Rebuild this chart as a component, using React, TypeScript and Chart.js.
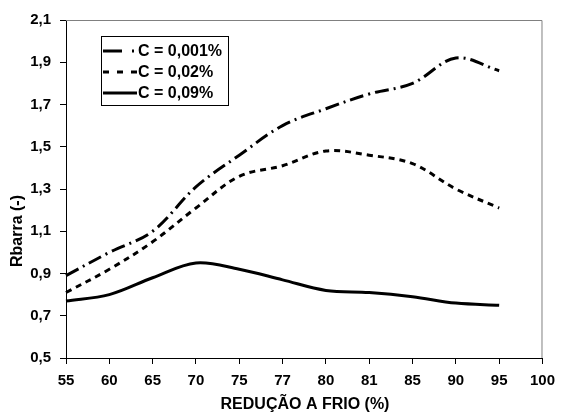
import React, { useEffect, useRef } from "react";
import { Chart, registerables } from "chart.js";

Chart.register(...registerables);

const categories = ["55", "60", "65", "70", "75", "77", "80", "81", "85", "90", "95", "100"];
const seriesNames = ["C = 0,001%", "C = 0,02%", "C = 0,09%"];
const c001 = [0.89, 1.0, 1.1, 1.31, 1.46, 1.6, 1.68, 1.75, 1.8, 1.92, 1.86, null];
const c002 = [0.81, 0.92, 1.05, 1.21, 1.36, 1.41, 1.48, 1.46, 1.42, 1.3, 1.21, null];
const c009 = [0.77, 0.8, 0.88, 0.95, 0.92, 0.87, 0.82, 0.81, 0.79, 0.76, 0.75, null];
const xTitle = "REDUÇÃO A FRIO (%)";
const yTitle = "Rbarra (-)";
const dashes = [[14, 5, 2, 5], [6, 5], []];
const legendDashes = [[19, 10, 2, 10], [6, 8], []];

const FONT = "Arial, 'Liberation Sans', sans-serif";

const legendPlugin = {
  id: "boxLegend",
  afterDraw(chart: any) {
    const ctx = chart.ctx;
    const area = chart.chartArea;
    ctx.save();
    ctx.strokeStyle = "#808080";
    ctx.lineWidth = 1;
    ctx.beginPath();
    ctx.moveTo(area.left, area.top + 0.5);
    ctx.lineTo(area.right - 0.5, area.top + 0.5);
    ctx.lineTo(area.right - 0.5, area.bottom);
    ctx.stroke();

    // axis titles
    ctx.fillStyle = "#000";
    ctx.font = "bold 16px " + FONT;
    ctx.textAlign = "center";
    ctx.textBaseline = "middle";
    ctx.fillText(xTitle, 305, 405);
    ctx.save();
    ctx.translate(18, 231);
    ctx.rotate(-Math.PI / 2);
    ctx.fillText(yTitle, 0, 0);
    ctx.restore();

    const x0 = 101, y0 = 36, w = 127, h = 69;
    ctx.fillStyle = "#ffffff";
    ctx.fillRect(x0, y0, w, h);
    ctx.strokeStyle = "#000000";
    ctx.lineWidth = 1;
    ctx.strokeRect(x0 + 0.5, y0 + 0.5, w, h);
    const rows = [51, 72, 93];
    chart.data.datasets.forEach((ds: any, i: number) => {
      const y = rows[i];
      ctx.strokeStyle = "#000";
      ctx.lineWidth = 3;
      ctx.setLineDash(legendDashes[i]);
      ctx.beginPath();
      ctx.moveTo(103, y);
      ctx.lineTo(137, y);
      ctx.stroke();
      ctx.setLineDash([]);
      ctx.fillStyle = "#000";
      ctx.font = "bold 16px " + FONT;
      ctx.textBaseline = "middle";
      ctx.textAlign = "left";
      ctx.fillText(ds.label, 138, y + 1);
    });
    ctx.restore();
  },
};

export default function App() {
  const ref = useRef<HTMLCanvasElement | null>(null);
  useEffect(() => {
    if (!ref.current) return;
    const chart = new Chart(ref.current, {
      type: "line",
      data: {
        labels: categories,
        datasets: [c001, c002, c009].map((d, i) => ({
          label: seriesNames[i],
          data: d,
          borderColor: "#000",
          borderWidth: 3,
          borderDash: dashes[i],
          pointRadius: 0,
          tension: 0.35,
          fill: false,
        })),
      },
      options: {
        animation: false,
        responsive: false,
        layout: { padding: { top: 20, right: 14, left: 4, bottom: 0 } },
        plugins: { legend: { display: false }, tooltip: { enabled: false } },
        scales: {
          x: {
            offset: false,
            grid: { drawOnChartArea: false, drawTicks: true, tickLength: 6, color: "#000" },
            border: { color: "#000", width: 1 },
            ticks: { color: "#000", font: { family: FONT, size: 15, weight: "bold" }, maxRotation: 0, autoSkip: false, padding: 8 },
            afterFit: (s: any) => { s.height = 57; },
          },
          y: {
            min: 0.5,
            max: 2.1,
            grid: { drawOnChartArea: false, drawTicks: true, tickLength: 6, color: "#000" },
            border: { color: "#000", width: 1 },
            ticks: {
              stepSize: 0.2,
              color: "#000",
              font: { family: FONT, size: 15, weight: "bold" },
              padding: 9,
              callback: (v: any) => Number(v).toFixed(1).replace(".", ","),
            },
            afterFit: (s: any) => { s.width = 62; },
          },
        },
      },
      plugins: [legendPlugin],
    } as any);
    return () => chart.destroy();
  }, []);
  return (
    <div style={{ position: "fixed", left: 0, top: 0, width: 563, height: 415, background: "#fff" }}>
      <canvas ref={ref} width={563} height={415} style={{ width: 563, height: 415 }} />
    </div>
  );
}
